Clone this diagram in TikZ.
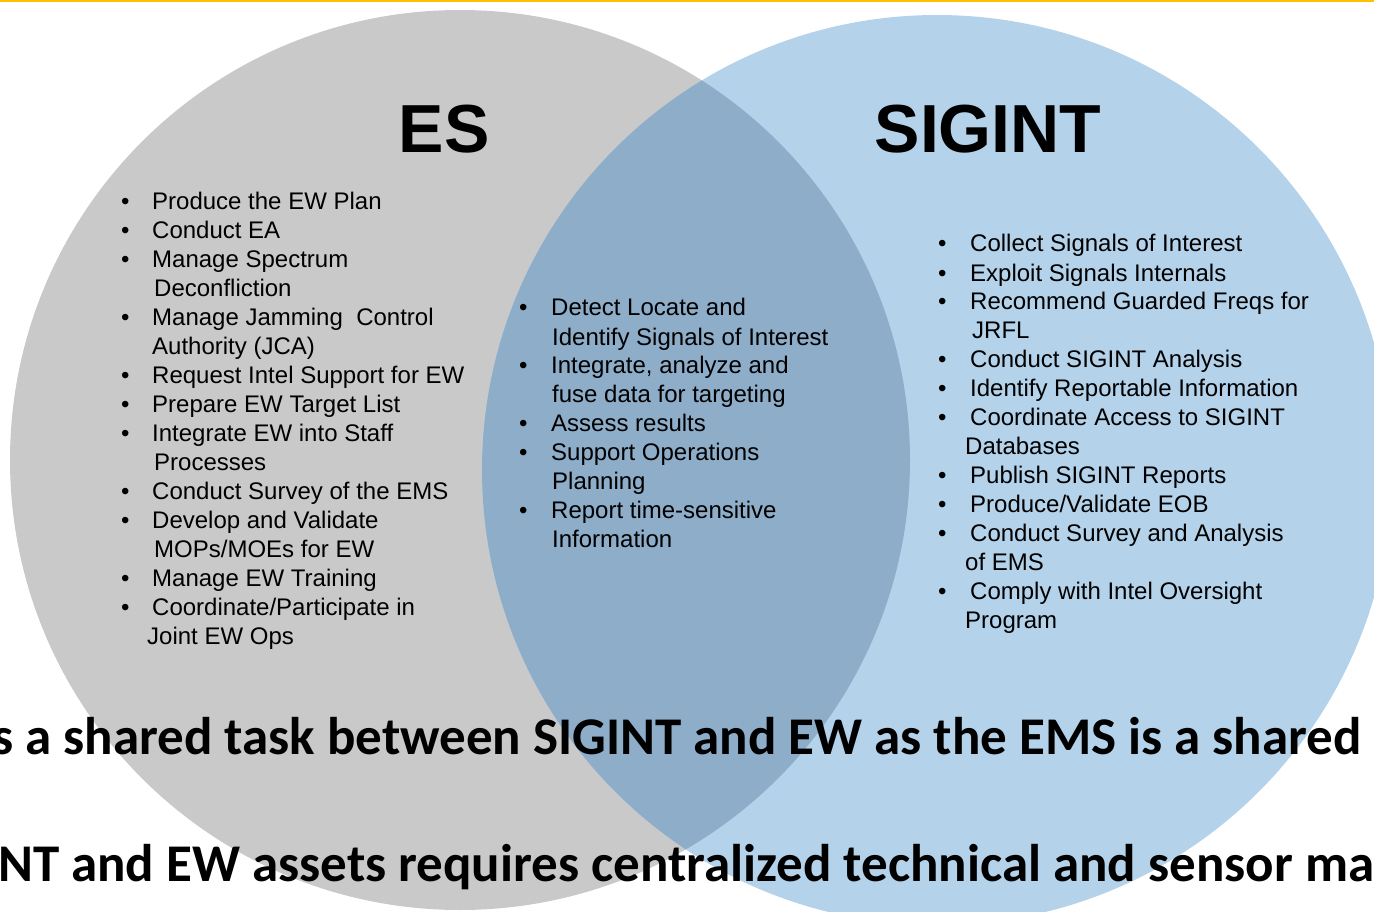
\documentclass[tikz,border=0pt]{standalone}
\usepackage{fontspec}
\setmainfont{Liberation Sans}
\newfontfamily\notefont{Carlito}
\usepackage{array}

\definecolor{esgrey}{HTML}{C9C9C9}
\definecolor{sigblue}{HTML}{B4D2EA}
\definecolor{bothblue}{HTML}{8DADC9}
\definecolor{topline}{HTML}{FFC000}

\tikzset{
  title/.style={font=\fontsize{68}{80}\selectfont\bfseries, inner sep=0pt, anchor=base},
  tasklist/.style={font=\fontsize{24}{29}\selectfont, inner sep=0pt, anchor=base west},
  note/.style={font=\notefont\bfseries\fontsize{53}{64}\selectfont, inner sep=0pt, anchor=base west},
}

\begin{document}
\begin{tikzpicture}[x=1pt, y=-1pt]
\useasboundingbox (0,0) rectangle (1374,912);
\clip (0,0) rectangle (1374,912);

\def\esx{460} \def\esy{460} \def\esr{450pt}
\def\sgx{937} \def\sgy{470} \def\sgr{455pt}

% the two sets
\fill[esgrey] (\esx,\esy) circle (\esr);
\fill[sigblue] (\sgx,\sgy) circle (\sgr);
\begin{scope}
  \clip (\esx,\esy) circle (\esr);
  \fill[bothblue] (\sgx,\sgy) circle (\sgr);
\end{scope}

% titles
\node[title] (es) at (444,153) {ES};
\node[title] (sigint) at (988,153) {SIGINT};

% task lists
\node[tasklist] (eslist) at (121,210) {\begin{tabular}[t]{@{}p{31pt}@{}l@{}}
• & Produce the EW Plan\\
• & Conduct EA\\
• & Manage Spectrum\\
  & \hspace*{2pt}Deconfliction\\
• & Manage Jamming\ \ Control\\
  & Authority (JCA)\\
• & Request Intel Support for EW\\
• & Prepare EW Target List\\
• & Integrate EW into Staff\\
  & \hspace*{2pt}Processes\\
• & Conduct Survey of the EMS\\
• & Develop and Validate\\
  & \hspace*{2pt}MOPs/MOEs for EW\\
• & Manage EW Training\\
• & Coordinate/Participate in\\
  & \hspace*{-5pt}Joint EW Ops
\end{tabular}};

\node[tasklist] (bothlist) at (519,316) {\begin{tabular}[t]{@{}p{32pt}@{}l@{}}
• & Detect Locate and\\
  & \hspace*{1pt}Identify Signals of Interest\\
• & Integrate, analyze and\\
  & \hspace*{1pt}fuse data for targeting\\
• & Assess results\\
• & Support Operations\\
  & \hspace*{1pt}Planning\\
• & Report time-sensitive\\
  & \hspace*{1pt}Information
\end{tabular}};

\node[tasklist] (siglist) at (938,252) {\begin{tabular}[t]{@{}p{32pt}@{}l@{}}
• & Collect Signals of Interest\\
• & Exploit Signals Internals\\
• & Recommend Guarded Freqs for\\
  & \hspace*{2pt}JRFL\\
• & Conduct SIGINT Analysis\\
• & Identify Reportable Information\\
• & Coordinate Access to SIGINT\\
  & \hspace*{-5pt}Databases\\
• & Publish SIGINT Reports\\
• & Produce/Validate EOB\\
• & Conduct Survey and Analysis\\
  & \hspace*{-5pt}of EMS\\
• & Comply with Intel Oversight\\
  & \hspace*{-5pt}Program
\end{tabular}};

% notes running over the picture
\node[note] (note1) at (-8,754) {s a shared task between SIGINT and EW as the EMS is a shared};
\node[note] (note2) at (-2,881) {NT and EW assets requires centralized technical and sensor ma};

\fill[topline] (0,0) rectangle (1374,2.5);
\end{tikzpicture}
\end{document}
